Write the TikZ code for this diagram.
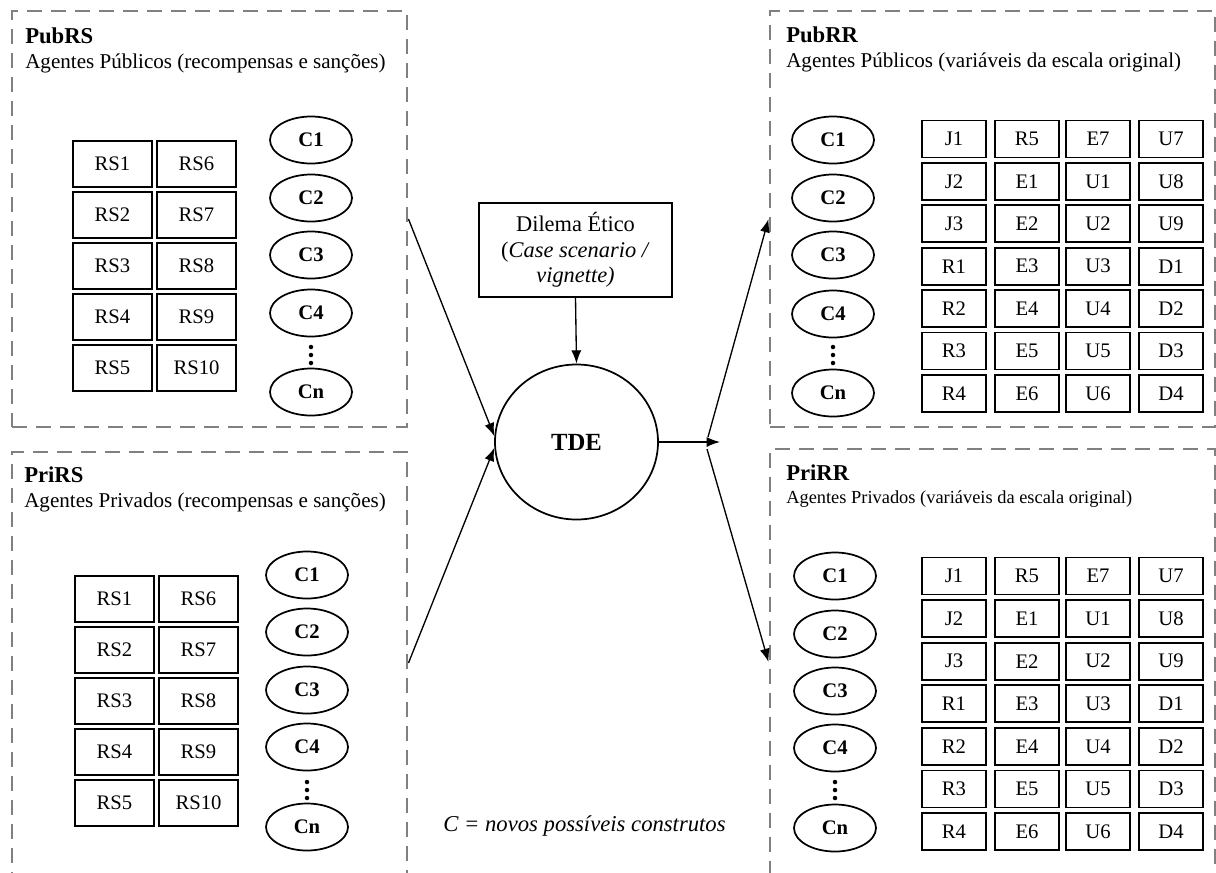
\documentclass[tikz,border=0pt]{standalone}
\usepackage{fontspec}
\setmainfont{Liberation Serif}
\usetikzlibrary{shapes.geometric,arrows.meta}
\newdimen\px \px=0.75pt
\definecolor{dashgray}{RGB}{128,128,128}

\begin{document}
\begin{tikzpicture}[x=0.75pt,y=-0.75pt,
  group/.style={draw=dashgray, line width=2.2pt, dash pattern=on 11pt off 7pt,
    inner sep=0, minimum width=#1},
  group/.default=395\px,
  grouptitle/.style={anchor=base west, inner sep=0, font=\fontsize{17}{20}\selectfont\bfseries},
  groupsub/.style={anchor=base west, inner sep=0, font=\fontsize{15.8}{18}\selectfont},
  rscell/.style={draw, line width=1.3pt, inner sep=0, minimum width=79\px,
    minimum height=46\px, font=\fontsize{15.5}{18}\selectfont},
  gcell/.style={draw, line width=1.3pt, inner sep=0, minimum width=64\px,
    minimum height=37\px, font=\fontsize{15.5}{18}\selectfont},
  cons/.style={ellipse, draw, line width=1.3pt, inner sep=0, minimum width=82\px,
    minimum height=47\px, font=\fontsize{15.5}{18}\selectfont\bfseries},
  vdot/.style={circle, fill, inner sep=0, minimum size=4.5\px},
  link/.style={line width=1pt, -{Latex[length=10pt,width=7.5pt]}}
]
\useasboundingbox (0,0) rectangle (1216,872);

% ---------- dashed group frames ----------
\node[group, minimum height=416\px] (pubrs) at (209.5,219) {};
\node[group, minimum height=422\px] (prirs) at (209.5,663) {};
\node[group=445\px, minimum height=416\px] (pubrr) at (992.5,219) {};
\node[group=445\px, minimum height=426\px] (prirr) at (992.5,662) {};

% ---------- group headings ----------
\node[grouptitle] (pubrs-t) at (25,43) {PubRS};
\node[groupsub] (pubrs-s) at (25,68) {Agentes Públicos (recompensas e sanções)};
\node[grouptitle] (prirs-t) at (24,482) {PriRS};
\node[groupsub] (prirs-s) at (24,507) {Agentes Privados (recompensas e sanções)};
\node[grouptitle] (pubrr-t) at (786,42) {PubRR};
\node[groupsub] (pubrr-s) at (786,67) {Agentes Públicos (variáveis da escala original)};
\node[grouptitle] (prirr-t) at (786,480) {PriRR};
\node[groupsub, font=\fontsize{13.8}{16}\selectfont] (prirr-s) at (786,503)
  {Agentes Privados (variáveis da escala original)};

% ---------- reward / sanction items ----------
\foreach \i in {1,...,5} {
  \pgfmathtruncatemacro\j{\i+5}
  \node[rscell] (pubrs-rs\i) at (112.5,{164+51*(\i-1)}) {RS\i};
  \node[rscell] (pubrs-rs\j) at (196.5,{164+51*(\i-1)}) {RS\j};
  \node[rscell] (prirs-rs\i) at (114.5,{599+51*(\i-1)}) {RS\i};
  \node[rscell] (prirs-rs\j) at (198.5,{599+51*(\i-1)}) {RS\j};
}

% ---------- original scale items ----------
\foreach \row [count=\i from 0] in {{J1,R5,E7,U7},{J2,E1,U1,U8},{J3,E2,U2,U9},
    {R1,E3,U3,D1},{R2,E4,U4,D2},{R3,E5,U5,D3},{R4,E6,U6,D4}} {
  \foreach \lab [count=\j from 0] in \row {
    \pgfmathsetmacro\cx{{954,1027,1098,1171}[\j]}
    \node[gcell] (pubrr-\lab) at (\cx,{139+42.4*\i}) {\lab};
    \node[gcell] (prirr-\lab) at (\cx,{576+42.6*\i}) {\lab};
  }
}

% ---------- possible new constructs ----------
\foreach \g/\x/\ya/\yb/\yc/\yd/\yn/\da in
    {pubrs/311/140/198/255/313/392/347, prirs/307/575/632/690/747/827/782,
     pubrr/833/140/198/255/314/393/347, prirr/835/576/634/691/748/828/782} {
  \node[cons] (\g-c1) at (\x,\ya) {C1};
  \node[cons] (\g-c2) at (\x,\yb) {C2};
  \node[cons] (\g-c3) at (\x,\yc) {C3};
  \node[cons] (\g-c4) at (\x,\yd) {C4};
  \node[cons] (\g-cn) at (\x,\yn) {Cn};
  \node[vdot] (\g-d1) at (\x,\da) {};
  \node[vdot] (\g-d2) at (\x,\da+8) {};
  \node[vdot] (\g-d3) at (\x,\da+16) {};
}

% ---------- central model ----------
\node[draw, line width=1.3pt, minimum width=193\px, minimum height=94\px, align=center,
  inner sep=0, font=\fontsize{16.8}{19}\selectfont] (dilema) at (575.5,250)
  {Dilema Ético\\(\textit{Case scenario /}\\\textit{vignette)}};
\node[ellipse, draw, line width=1.3pt, minimum width=163\px, minimum height=155\px,
  inner sep=0, font=\fontsize{18.5}{22}\selectfont\bfseries] (tde) at (576.5,442) {TDE};

\coordinate (out) at (720,442);
\coordinate (fanU) at (708,437);
\coordinate (fanD) at (707,449);

\draw[link] (dilema.south) -- (tde.north);
\draw[link] (pubrs.east) -- (tde.176);
\draw[link] (prirs.east) -- (tde.184);
\draw[link] (tde.east) -- (out);
\draw[link] (fanU) -- (pubrr.west);
\draw[link] (fanD) -- (prirr.west);

% ---------- legend ----------
\node[font=\fontsize{17}{20}\selectfont\itshape, inner sep=0, anchor=base] (legend)
  at (584.5,831) {C = novos possíveis construtos};
\end{tikzpicture}
\end{document}
